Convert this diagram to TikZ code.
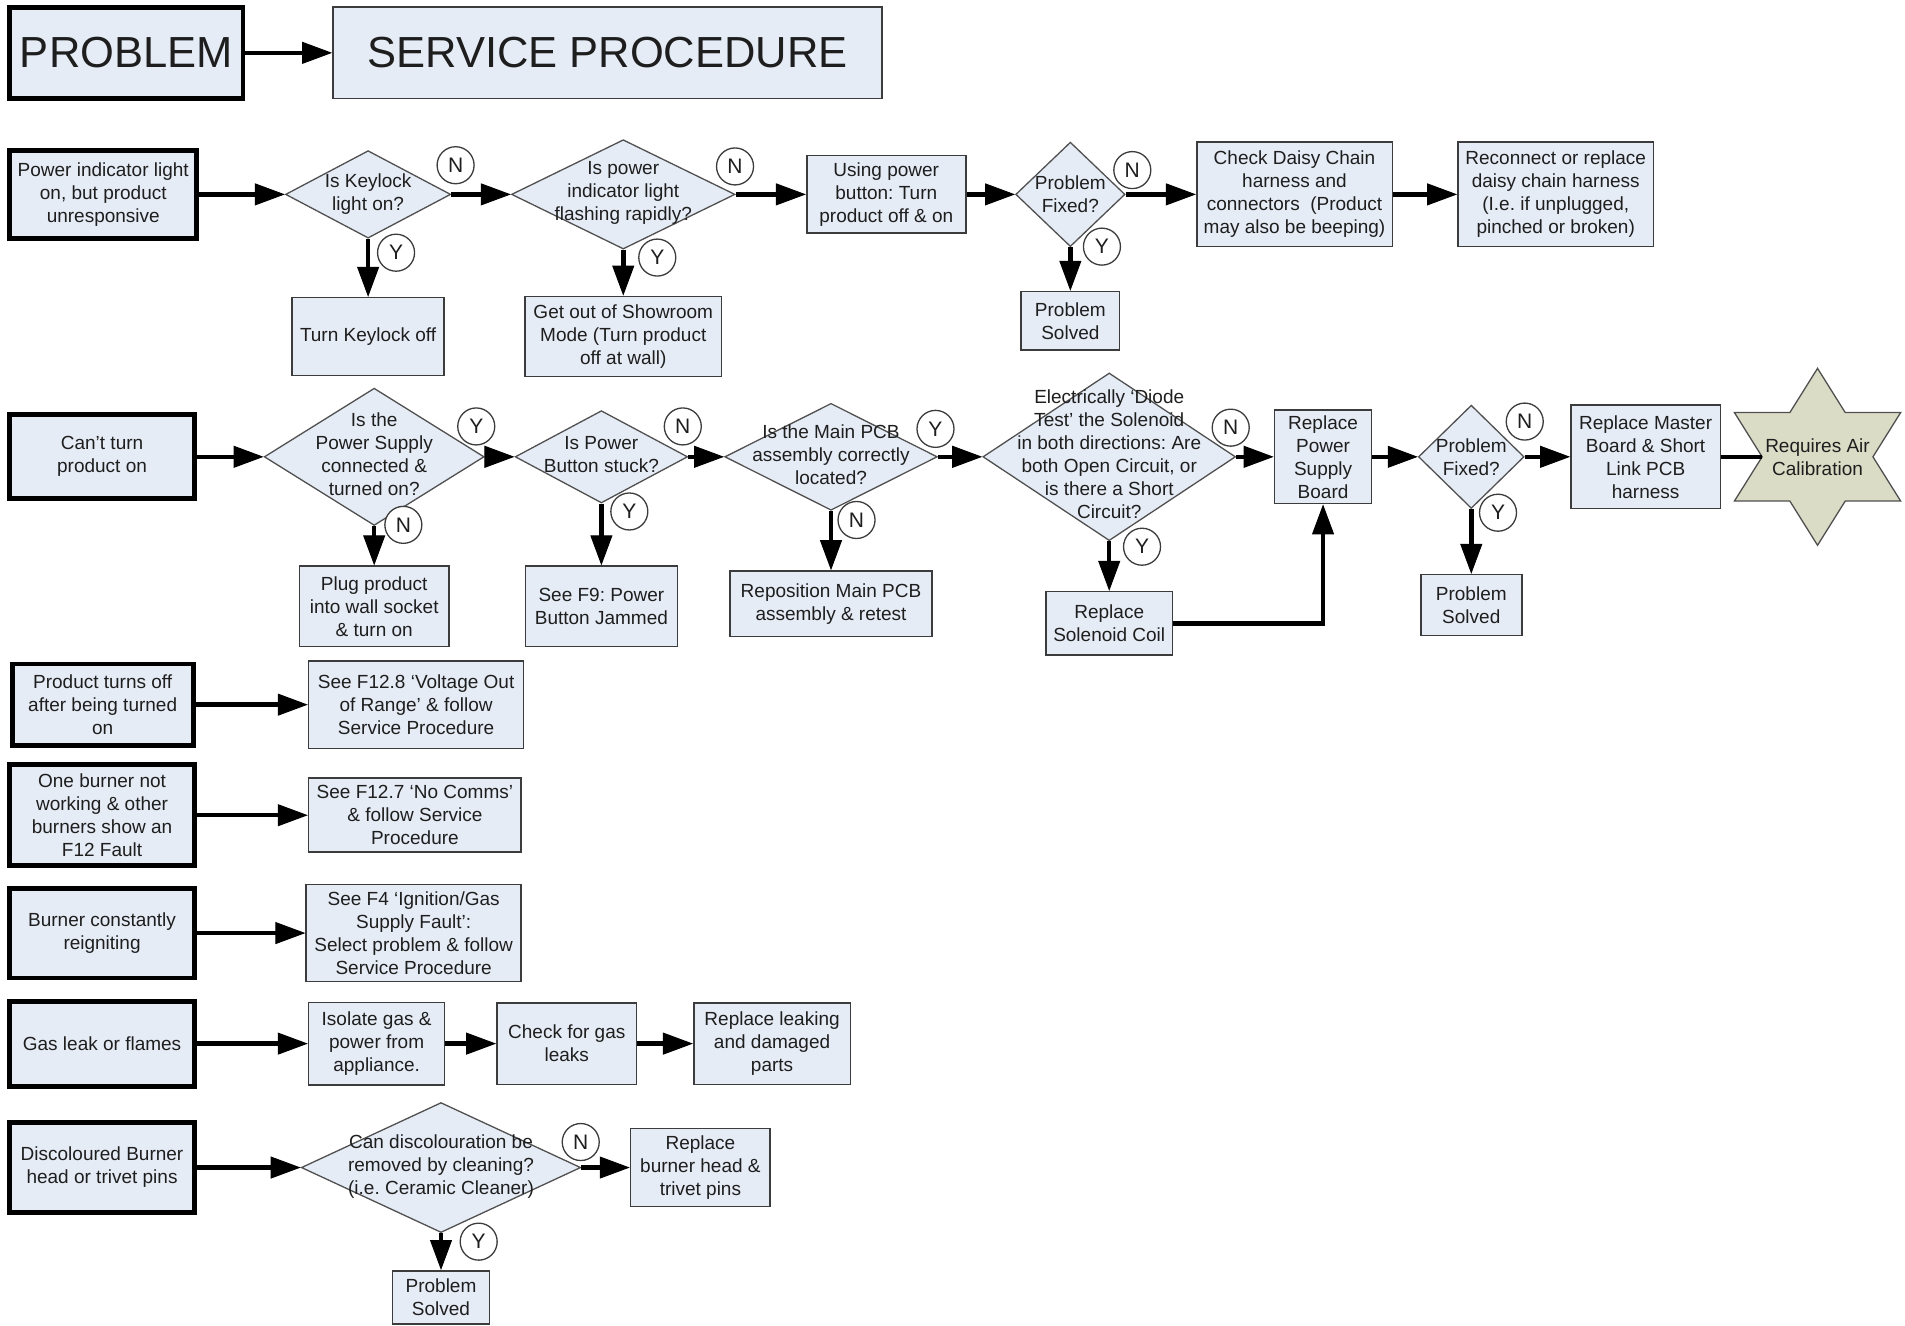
\documentclass[tikz,border=0pt]{standalone}
\usepackage{fontspec}
\setmainfont{Liberation Sans}
\usetikzlibrary{shapes.geometric,arrows.meta}
\definecolor{boxfill}{HTML}{E6ECF6}
\definecolor{starfill}{HTML}{DBDCC6}
\definecolor{txtc}{HTML}{1E1E1E}
\definecolor{edgec}{HTML}{3C3C3C}
\definecolor{dedgec}{HTML}{505050}
\newcommand\bodyf{\fontsize{19}{23}\selectfont\frenchspacing}
\newcommand\titlef{\fontsize{43.5}{50}\selectfont}
\newcommand\ynf{\fontsize{21}{24}\selectfont}
\begin{document}
\begin{tikzpicture}[x=1.215pt,y=-1.215pt,
 sz/.style 2 args={minimum width={#1*1.215pt},minimum height={#2*1.215pt}},
 base/.style={fill=boxfill,inner sep=0pt,align=center,font=\bodyf,text=txtc},
 pbox/.style={base,draw=black,line width=4.8pt},
 sbox/.style={base,draw=edgec,line width=1.6pt},
 dia/.style={diamond,draw=dedgec,fill=boxfill,line width=1.3pt,inner sep=0pt},
 dtxt/.style={inner sep=0pt,align=center,font=\bodyf,text=txtc},
 yn/.style={circle,draw=edgec,line width=1.3pt,fill=white,inner sep=0pt,minimum size=37pt,font=\ynf,text=txtc},
 arr/.style={draw=black,line width=4.5pt,-{Triangle[length=30pt,width=22pt,line width=1pt]}},
 conn/.style={draw=black,line width=4.5pt}]
\useasboundingbox (0,0) rectangle (1568,1091.4);

% header
\node[pbox,sz={192}{75},font=\titlef] (prob) at (104,43.5) {PROBLEM};
\node[sbox,sz={452}{75},font=\titlef] (serv) at (500,43.5) {SERVICE PROCEDURE};
\draw[arr] (prob) -- (serv);

% row 1
\node[pbox,sz={154}{72}] (a1) at (85,160) {Power indicator light\\on, but product\\unresponsive};
\node[dia,sz={136}{72}] (d1) at (303,160) {};
\node[dtxt] (d1t) at (303,160) {Is Keylock\\light on?};
\node[sbox,sz={125}{64}] (b1) at (303,277) {Turn Keylock off};
\node[dia,sz={184}{90}] (d2) at (513,160) {};
\node[dtxt] (d2t) at (513,159) {Is power\\indicator light\\flashing rapidly?};
\node[sbox,sz={162}{66}] (b2) at (513,277) {Get out of Showroom\\Mode (Turn product\\off at wall)};
\node[sbox,sz={131}{64}] (c1) at (729.5,160) {Using power\\button: Turn\\product off \& on};
\node[dia,sz={90}{86}] (d3) at (881,160) {};
\node[dtxt] (d3t) at (881,160) {Problem\\Fixed?};
\node[sbox,sz={81}{48}] (b3) at (881,264) {Problem\\Solved};
\node[sbox,sz={161}{86}] (c2) at (1065.5,160) {Check Daisy Chain\\harness and\\connectors~~(Product\\may also be beeping)};
\node[sbox,sz={161}{86}] (c3) at (1280.5,160) {Reconnect or replace\\daisy chain harness\\(I.e. if unplugged,\\pinched or broken)};
\draw[arr] (a1) -- (d1);
\draw[arr] (d1) -- (d2);
\draw[arr] (d2) -- (c1);
\draw[arr] (c1) -- (d3);
\draw[arr] (d3) -- (c2);
\draw[arr] (c2) -- (c3);
\draw[arr] (d1) -- (b1);
\draw[arr] (d2) -- (b2);
\draw[arr] (d3) -- (b3);
\node[yn] (n1) at (375,136) {N};
\node[yn] (y1) at (326,208) {Y};
\node[yn] (n2) at (605,137) {N};
\node[yn] (y2) at (541,212) {Y};
\node[yn] (n3) at (932,140) {N};
\node[yn] (y3) at (907,203) {Y};

% row 2
\node[pbox,sz={152}{69}] (a2) at (84,376) {Can’t turn\\product on};
\node[dia,sz={181}{113}] (d4) at (308,376) {};
\node[dtxt] (d4t) at (308,374) {Is the\\Power Supply\\connected \&\\turned on?};
\node[sbox,sz={123}{66}] (f1) at (308,499) {Plug product\\into wall socket\\\& turn on};
\node[dia,sz={142}{76}] (d5) at (495,376) {};
\node[dtxt] (d5t) at (495,374) {Is Power\\Button stuck?};
\node[sbox,sz={125}{66}] (f2) at (495,499) {See F9: Power\\Button Jammed};
\node[dia,sz={175}{88}] (d6) at (684,376) {};
\node[dtxt] (d6t) at (684,374) {Is the Main PCB\\assembly correctly\\located?};
\node[sbox,sz={166}{54}] (f3) at (684,497) {Reposition Main PCB\\assembly \& retest};
\node[dia,sz={208}{138}] (d7) at (913,376) {};
\node[dtxt] (d7t) at (913,374) {Electrically ‘Diode\\Test’ the Solenoid\\in both directions: Are\\both Open Circuit, or\\is there a Short\\Circuit?};
\node[sbox,sz={104}{52}] (f4) at (913,513) {Replace\\Solenoid Coil};
\node[sbox,sz={80}{77}] (e1) at (1089,376) {Replace\\Power\\Supply\\Board};
\node[dia,sz={87}{85}] (d8) at (1211,376) {};
\node[dtxt] (d8t) at (1211,376) {Problem\\Fixed?};
\node[sbox,sz={83}{50}] (f5) at (1211,498) {Problem\\Solved};
\node[sbox,sz={123}{85}] (e2) at (1354.5,376) {Replace Master\\Board \& Short\\Link PCB\\harness};
\coordinate (star) at (1496,376);
\coordinate (starL) at (1450.4,376);
\draw[draw=dedgec,fill=starfill,line width=1.3pt]
 (1496,303.2) -- (1518.8,339.6) -- (1564.4,339.6) -- (1541.6,376) -- (1564.4,412.4) -- (1518.8,412.4)
 -- (1496,448.8) -- (1473.2,412.4) -- (1427.6,412.4) -- (1450.4,376) -- (1427.6,339.6) -- (1473.2,339.6) -- cycle;
\node[dtxt] (start) at (star) {Requires Air\\Calibration};
\draw[arr] (a2) -- (d4);
\draw[arr] (d4) -- (d5);
\draw[arr] (d5) -- (d6);
\draw[arr] (d6) -- (d7);
\draw[arr] (d7) -- (e1);
\draw[arr] (e1) -- (d8);
\draw[arr] (d8) -- (e2);
\draw[conn] (e2) -- (starL);
\draw[arr] (d4) -- (f1);
\draw[arr] (d5) -- (f2);
\draw[arr] (d6) -- (f3);
\draw[arr] (d7) -- (f4);
\draw[arr] (d8) -- (f5);
\draw[arr] (f4.east) -| (e1.south);
\node[yn] (y4) at (392,351) {Y};
\node[yn] (n4) at (332,432) {N};
\node[yn] (n5) at (562,351) {N};
\node[yn] (y5) at (518,421) {Y};
\node[yn] (y6) at (770,353) {Y};
\node[yn] (n6) at (705,428) {N};
\node[yn] (n7) at (1013,352) {N};
\node[yn] (y7) at (940,450) {Y};
\node[yn] (n8) at (1255,347) {N};
\node[yn] (y8) at (1233,422) {Y};

% rows 3-5
\node[pbox,sz={149}{67}] (g1) at (84.5,580) {Product turns off\\after being turned\\on};
\node[sbox,sz={177}{72}] (h1) at (342.5,580) {See F12.8 ‘Voltage Out\\of Range’ \& follow\\Service Procedure};
\node[pbox,sz={152}{83}] (g2) at (84,671) {One burner not\\working \& other\\burners show an\\F12 Fault};
\node[sbox,sz={175}{61}] (h2) at (341.5,671) {See F12.7 ‘No Comms’\\\& follow Service\\Procedure};
\node[pbox,sz={152}{74}] (g3) at (84,768) {Burner constantly\\reigniting};
\node[sbox,sz={177}{80}] (h3) at (340.5,768) {See F4 ‘Ignition/Gas\\Supply Fault’:\\Select problem \& follow\\Service Procedure};
\draw[arr] (g1) -- (h1);
\draw[arr] (g2) -- (h2);
\draw[arr] (g3) -- (h3);

% row 6
\node[pbox,sz={152}{70}] (g4) at (84,859) {Gas leak or flames};
\node[sbox,sz={112}{68}] (i1) at (310,859) {Isolate gas \&\\power from\\appliance.};
\node[sbox,sz={115}{67}] (i2) at (466.5,859) {Check for gas\\leaks};
\node[sbox,sz={129}{67}] (i3) at (635.5,859) {Replace leaking\\and damaged\\parts};
\draw[arr] (g4) -- (i1);
\draw[arr] (i1) -- (i2);
\draw[arr] (i2) -- (i3);

% row 7
\node[pbox,sz={152}{74}] (g5) at (84,961) {Discoloured Burner\\head or trivet pins};
\node[dia,sz={230}{107}] (d9) at (363,961) {};
\node[dtxt] (d9t) at (363,960) {Can discolouration be\\removed by cleaning?\\(i.e. Ceramic Cleaner)};
\node[sbox,sz={115}{64}] (j1) at (576.5,961) {Replace\\burner head \&\\trivet pins};
\node[sbox,sz={80}{44}] (j2) at (363,1068) {Problem\\Solved};
\draw[arr] (g5) -- (d9);
\draw[arr] (d9) -- (j1);
\draw[arr] (d9) -- (j2);
\node[yn] (n9) at (478,940) {N};
\node[yn] (y9) at (394,1022) {Y};
\end{tikzpicture}
\end{document}
